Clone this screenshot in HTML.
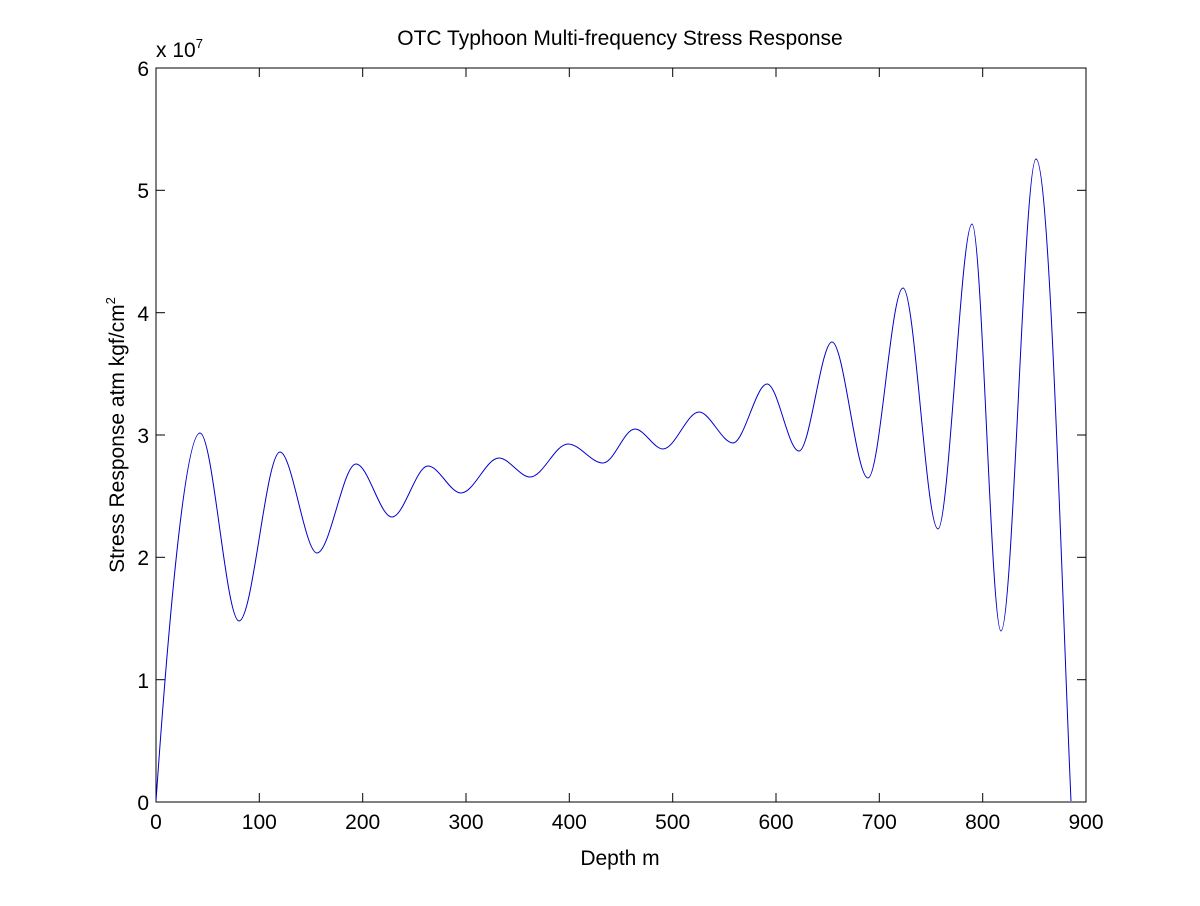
<!DOCTYPE html>
<html><head><meta charset="utf-8"><style>
body{margin:0;background:#fff}
svg text{font-family:"Liberation Sans",sans-serif;font-size:21px;fill:#000}
</style></head><body>
<svg width="1200" height="901" viewBox="0 0 1200 901">
<rect width="1200" height="901" fill="#fff"/>
<rect x="156" y="68" width="930" height="734" fill="none" stroke="#000" stroke-width="1"/>
<g stroke="#000" stroke-width="1">
<line x1="259.3" y1="802" x2="259.3" y2="793"/><line x1="362.7" y1="802" x2="362.7" y2="793"/>
<line x1="466" y1="802" x2="466" y2="793"/><line x1="569.3" y1="802" x2="569.3" y2="793"/>
<line x1="672.7" y1="802" x2="672.7" y2="793"/><line x1="776" y1="802" x2="776" y2="793"/>
<line x1="879.3" y1="802" x2="879.3" y2="793"/><line x1="982.7" y1="802" x2="982.7" y2="793"/>
<line x1="259.3" y1="68" x2="259.3" y2="77"/><line x1="362.7" y1="68" x2="362.7" y2="77"/>
<line x1="466" y1="68" x2="466" y2="77"/><line x1="569.3" y1="68" x2="569.3" y2="77"/>
<line x1="672.7" y1="68" x2="672.7" y2="77"/><line x1="776" y1="68" x2="776" y2="77"/>
<line x1="879.3" y1="68" x2="879.3" y2="77"/><line x1="982.7" y1="68" x2="982.7" y2="77"/>
<line x1="156" y1="679.7" x2="165" y2="679.7"/><line x1="156" y1="557.3" x2="165" y2="557.3"/>
<line x1="156" y1="435" x2="165" y2="435"/><line x1="156" y1="312.7" x2="165" y2="312.7"/>
<line x1="156" y1="190.3" x2="165" y2="190.3"/>
<line x1="1086" y1="679.7" x2="1077" y2="679.7"/><line x1="1086" y1="557.3" x2="1077" y2="557.3"/>
<line x1="1086" y1="435" x2="1077" y2="435"/><line x1="1086" y1="312.7" x2="1077" y2="312.7"/>
<line x1="1086" y1="190.3" x2="1077" y2="190.3"/>
</g>
<g text-anchor="middle">
<text x="156" y="829">0</text><text x="259.3" y="829">100</text><text x="362.7" y="829">200</text>
<text x="466" y="829">300</text><text x="569.3" y="829">400</text><text x="672.7" y="829">500</text>
<text x="776" y="829">600</text><text x="879.3" y="829">700</text><text x="982.7" y="829">800</text>
<text x="1086" y="829">900</text>
</g>
<g text-anchor="end">
<text x="149" y="810">0</text><text x="149" y="688">1</text><text x="149" y="565">2</text>
<text x="149" y="443">3</text><text x="149" y="321">4</text><text x="149" y="198">5</text>
<text x="149" y="76">6</text>
</g>
<text x="156" y="57">x 10<tspan font-size="13" dy="-9">7</tspan></text>
<text x="620" y="45" text-anchor="middle">OTC Typhoon Multi-frequency Stress Response</text>
<text x="620" y="865" text-anchor="middle">Depth m</text>
<text transform="translate(124,435) rotate(-90)" text-anchor="middle">Stress Response atm kgf/cm<tspan font-size="13" dy="-9">2</tspan></text>
<path fill="none" stroke="#00c" stroke-width="1" d="M156,801 C170,600 186,433 200,433 C213,433 226,621 239,621 C253,621 266,452 280,452 C292,452 305,553 317,553 C330,553 343,464 356,464 C368,464 380,517 392,517 C404,517 416,466 428,466 C439,466 450,493 461,493 C474,493 486,458 499,458 C509,458 520,477 530,477 C543,477 555,444 568,444 C580,444 591,463 603,463 C614,463 624,429 635,429 C644,429 654,449 663,449 C675,449 687,412 699,412 C710,412 722,443 733,443 C744,443 756,384 767,384 C778,384 788,451 799,451 C810,451 821,342 832,342 C844,342 856,478 868,478 C880,478 891,288 903,288 C915,288 926,529 938,529 C949,529 961,224 972,224 C982,224 991,631 1001,631 C1013,631 1024,159 1036,159 C1050,159 1062,600 1071,801"/>
</svg>
</body></html>
